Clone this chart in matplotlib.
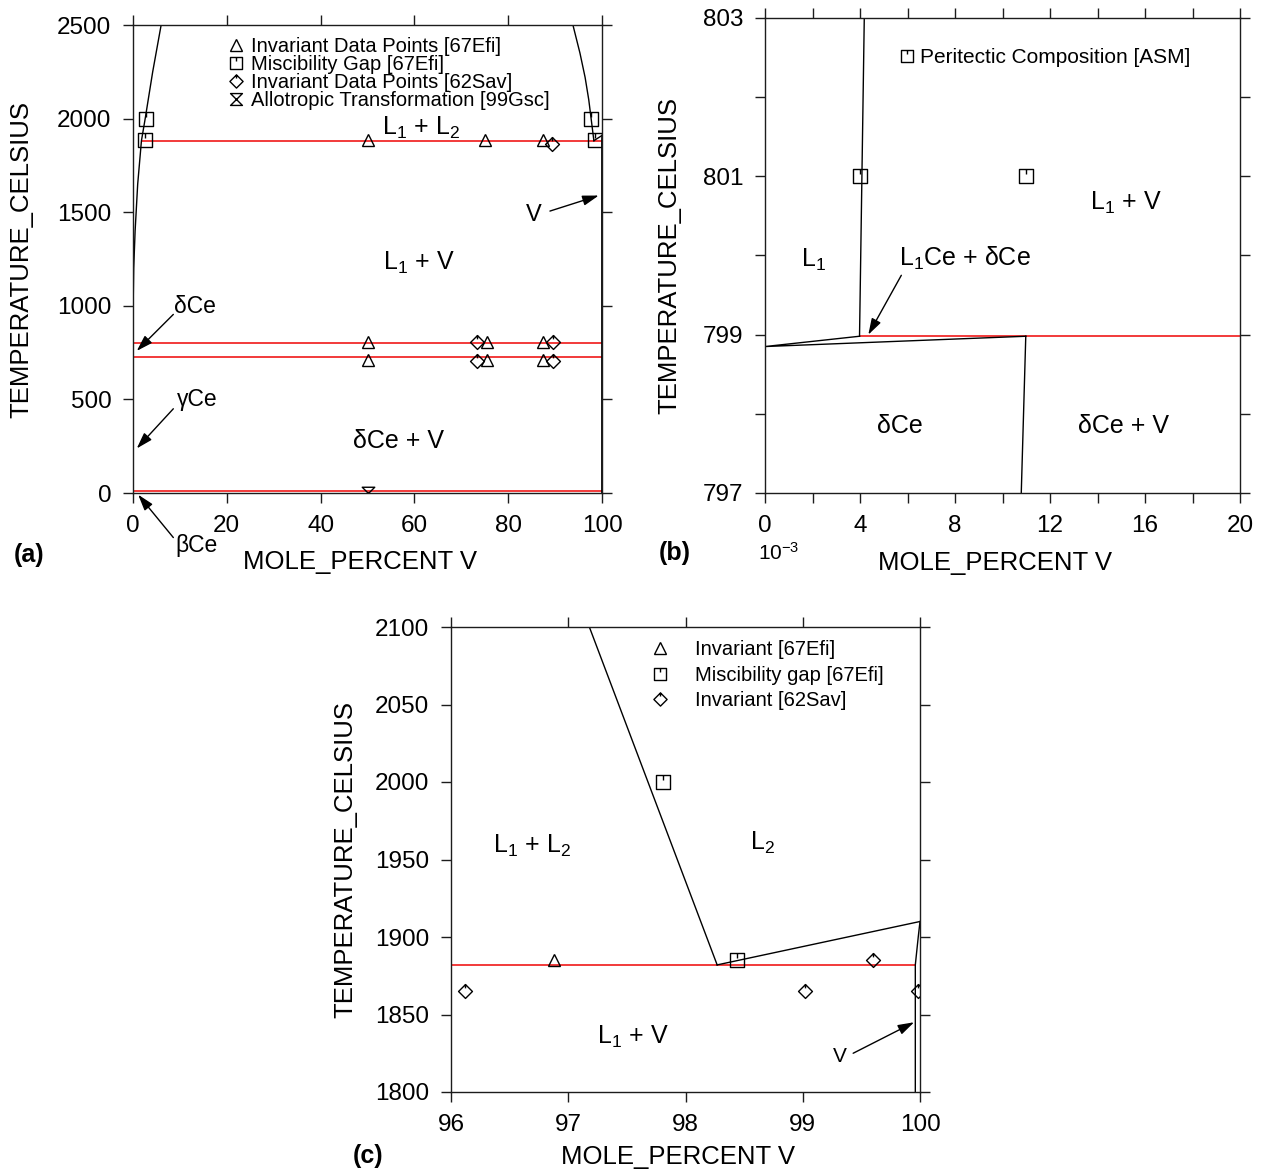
import numpy as np
import matplotlib
matplotlib.use("Agg")
import matplotlib.pyplot as plt
from matplotlib.path import Path
from matplotlib.lines import Line2D

plt.rcParams['font.family'] = ['Liberation Sans', 'DejaVu Sans']
plt.rcParams['mathtext.default'] = 'regular'

## ============================== ##
##  Data ##
## ============================== ##

## (a) whole diagram, mole percent V vs temperature
a_red_T = [1882, 799, 726, 10]
a_red_from = [1.8, 0, 0, 0]
a_red_to = [99.96, 100, 100, 100]

gap_left_x = [0, 0.03, 0.15, 0.45, 1.0, 1.8, 2.6, 4.2, 6.0]
gap_left_T = [799, 1000, 1200, 1400, 1650, 1882, 2000, 2250, 2500]
gap_right_x = [93.8, 95.3, 96.4, 97.18, 98.27]
gap_right_T = [2500, 2350, 2220, 2100, 1882]
liq_v_x = [98.27, 100]
liq_v_T = [1882, 1910]
solvus_v_x = [100, 99.985, 99.96, 99.96]
solvus_v_T = [1910, 1900, 1882, 0]

a_tri_x = [50, 75, 87.5, 50, 75.4, 87.5, 50, 75.4, 87.5]
a_tri_T = [1885, 1885, 1888, 808, 808, 808, 712, 712, 712]
a_sq_x = [2.7, 2.5, 97.75, 98.45]
a_sq_T = [2000, 1885, 2000, 1885]
a_dia_x = [89.4, 73.3, 89.5, 73.3, 89.5]
a_dia_T = [1862, 808, 808, 704, 704]
a_hg_x = [50]
a_hg_T = [0]

## (b) Ce-rich corner, x in units of 1e-3 mole percent
b_liq_x = [4.18, 3.98]
b_liq_T = [803, 798.98]
b_peri_x = [3.98, 0, 10.98]
b_peri_T = [798.98, 798.85, 798.98]
b_solvus_x = [10.98, 10.79]
b_solvus_T = [798.98, 797]
b_red_T = 798.98
b_red_from, b_red_to = 3.98, 20
b_sq_x = [3.98, 11.0]
b_sq_T = [801, 801]

## (c) V-rich corner
c_tri_x = [96.88]
c_tri_T = [1885]
c_sq_x = [97.81, 98.44]
c_sq_T = [2000, 1885]
c_dia_x = [96.12, 99.02, 99.6, 99.98]
c_dia_T = [1865, 1865, 1885, 1865]
c_red_T = 1882
c_red_from, c_red_to = 96, 99.96

RED = '#f23a3a'
EDGE = '#1c1c1c'

## marker shapes
sq_tick = Path([(-1, -1), (1, -1), (1, 1), (-1, 1), (-1, -1), (0, 1), (0, 0.35)],
               [Path.MOVETO, Path.LINETO, Path.LINETO, Path.LINETO, Path.CLOSEPOLY,
                Path.MOVETO, Path.LINETO])
dia_tick = Path([(0, 1), (1, 0), (0, -1), (-1, 0), (0, 1), (0, 1), (0, 0.45)],
                [Path.MOVETO, Path.LINETO, Path.LINETO, Path.LINETO, Path.CLOSEPOLY,
                 Path.MOVETO, Path.LINETO])
hourglass = Path([(-1, 1), (1, 1), (-1, -1), (1, -1), (-1, 1)],
                 [Path.MOVETO, Path.LINETO, Path.LINETO, Path.LINETO, Path.CLOSEPOLY])

MK = dict(ls='none', mfc='none', mec='k', mew=1.0)
TRI = dict(marker='^', ms=9, **MK)
SQ = dict(marker=sq_tick, ms=9.5, **MK)
DIA = dict(marker=dia_tick, ms=10, **MK)
HG = dict(marker=hourglass, ms=9, **MK)

W, H = 1262, 1174
fig = plt.figure(figsize=(W / 100, H / 100), dpi=100)


def px_axes(l, t, r, b):
    return fig.add_axes([l / W, 1 - b / H, (r - l) / W, (b - t) / H])


def style(ax):
    for s in ax.spines.values():
        s.set_linewidth(1.0)
        s.set_color(EDGE)
    ax.tick_params(which='both', direction='out', length=7, width=1.0, color=EDGE,
                   pad=8.5, labelsize=17.5, top=True, right=True)


def arrow(ax, tail, tip):
    ax.annotate('', xy=tip, xytext=tail, annotation_clip=False,
                arrowprops=dict(arrowstyle='-|>,head_length=0.7,head_width=0.22',
                                color='k', lw=1.0, mutation_scale=14,
                                shrinkA=0, shrinkB=0))


def labels(ax, ylab_x, xlab_y):
    ax.set_xlabel('MOLE_PERCENT V', fontsize=18.5)
    ax.set_ylabel('TEMPERATURE_CELSIUS', fontsize=18.5)
    ax.xaxis.set_label_coords(0.485, xlab_y)
    ax.yaxis.set_label_coords(ylab_x, 0.5)


## ---------- (a) ----------
ax = px_axes(133, 25, 602, 493)
style(ax)
ax.hlines(a_red_T, a_red_from, a_red_to, color=RED, lw=1.4)
for xs, ts in [(gap_left_x, gap_left_T), (gap_right_x, gap_right_T),
               (liq_v_x, liq_v_T), (solvus_v_x, solvus_v_T)]:
    ax.plot(xs, ts, color='k', lw=1.0)
ax.plot(a_tri_x, a_tri_T, **TRI)
ax.plot(a_sq_x, a_sq_T, **SQ)
ax.plot(a_dia_x, a_dia_T, **DIA)
ax.plot(a_hg_x, a_hg_T, **HG)
ax.set_xlim(0, 100)
ax.set_ylim(0, 2500)
ax.set_xticks(np.arange(0, 101, 20))
ax.set_yticks(np.arange(0, 2501, 500))
labels(ax, -0.213, -0.122)

hand = [Line2D([], [], **TRI), Line2D([], [], **SQ), Line2D([], [], **DIA), Line2D([], [], **HG)]
ax.legend(hand, ['Invariant Data Points [67Efi]', 'Miscibility Gap [67Efi]',
                 'Invariant Data Points [62Sav]', 'Allotropic Transformation [99Gsc]'],
          loc='upper left', bbox_to_anchor=(0.203, 0.975), frameon=False, fontsize=14.5,
          handlelength=0.8, handletextpad=0.35, labelspacing=-0.04, borderpad=0,
          borderaxespad=0, markerscale=0.95)

ax.text(61.4, 1949, '$L_1$ + $L_2$', fontsize=18, ha='center', va='center')
ax.text(61.0, 1230, '$L_1$ + V', fontsize=18, ha='center', va='center')
ax.text(56.6, 276, 'δCe + V', fontsize=18, ha='center', va='center')
ax.text(85.4, 1486, 'V', fontsize=17, ha='center', va='center')
arrow(ax, (88.9, 1506), (99.3, 1589))
ax.text(13.2, 998, 'δCe', fontsize=16.5, ha='center', va='center')
arrow(ax, (8.6, 954), (0.8, 759))
ax.text(13.6, 498, 'γCe', fontsize=16.5, ha='center', va='center')
arrow(ax, (8.6, 450), (0.8, 238))
ax.text(13.6, -283, 'βCe', fontsize=16.5, ha='center', va='center', clip_on=False)
arrow(ax, (8.6, -238), (1.1, -9))

## ---------- (b) ----------
ax = px_axes(765, 18, 1240, 493)
style(ax)
ax.hlines(b_red_T, b_red_from, b_red_to, color=RED, lw=1.4)
for xs, ts in [(b_liq_x, b_liq_T), (b_peri_x, b_peri_T), (b_solvus_x, b_solvus_T)]:
    ax.plot(xs, ts, color='k', lw=1.0)
ax.plot(b_sq_x, b_sq_T, **SQ)
ax.set_xlim(0, 20)
ax.set_ylim(797, 803)
ax.set_xticks(np.arange(0, 21, 2))
ax.set_xticklabels([str(v) if v % 4 == 0 else '' for v in range(0, 21, 2)])
ax.set_yticks(np.arange(797, 804, 1))
ax.set_yticklabels([str(v) if v % 2 == 1 else '' for v in range(797, 804)])
labels(ax, -0.175, -0.122)
ax.text(0.028, -0.125, '$10^{-3}$', transform=ax.transAxes, fontsize=15,
        ha='center', va='center')
ax.legend([Line2D([], [], **SQ)], ['Peritectic Composition [ASM]'], loc='center left',
          bbox_to_anchor=(0.281, 0.9167), frameon=False, fontsize=15, handlelength=0.8,
          handletextpad=0.25, borderpad=0, borderaxespad=0, markerscale=0.9)
ax.text(2.05, 799.94, '$L_1$', fontsize=18, ha='center', va='center')
ax.text(8.4, 799.96, '$L_1$Ce + δCe', fontsize=18, ha='center', va='center')
ax.text(15.2, 800.66, '$L_1$ + V', fontsize=18, ha='center', va='center')
ax.text(5.7, 797.84, 'δCe', fontsize=18, ha='center', va='center')
ax.text(15.1, 797.84, 'δCe + V', fontsize=18, ha='center', va='center')
arrow(ax, (5.74, 799.75), (4.35, 799.0))

## ---------- (c) ----------
ax = px_axes(451, 627, 920, 1092)
style(ax)
ax.hlines(c_red_T, c_red_from, c_red_to, color=RED, lw=1.4)
for xs, ts in [(gap_right_x, gap_right_T), (liq_v_x, liq_v_T), (solvus_v_x, solvus_v_T)]:
    ax.plot(xs, ts, color='k', lw=1.0)
ax.plot(c_tri_x, c_tri_T, **TRI)
ax.plot(c_sq_x, c_sq_T, **SQ)
ax.plot(c_dia_x, c_dia_T, **DIA)
ax.set_xlim(96, 100)
ax.set_ylim(1800, 2100)
ax.set_xticks(np.arange(96, 101, 1))
ax.set_yticks(np.arange(1800, 2101, 50))
labels(ax, -0.199, -0.114)
ax.legend(hand[:3], ['Invariant [67Efi]', 'Miscibility gap [67Efi]', 'Invariant [62Sav]'],
          loc='upper left', bbox_to_anchor=(0.425, 0.972), frameon=False, fontsize=14.5,
          handlelength=1.0, handletextpad=1.2, labelspacing=0.33, borderpad=0,
          borderaxespad=0, markerscale=0.95)
ax.text(96.69, 1958.7, '$L_1$ + $L_2$', fontsize=18, ha='center', va='center')
ax.text(98.66, 1961, '$L_2$', fontsize=18, ha='center', va='center')
ax.text(97.55, 1835.6, '$L_1$ + V', fontsize=18, ha='center', va='center')
ax.text(99.32, 1822.8, 'V', fontsize=15, ha='center', va='center')
arrow(ax, (99.43, 1825), (99.95, 1845))

## panel letters
for s, x, y in [('(a)', 29, 555), ('(b)', 675, 553), ('(c)', 368, 1156)]:
    fig.text(x / W, 1 - y / H, s, fontsize=18, fontweight='bold', ha='center', va='center')

fig.savefig('out.png', dpi=100)
